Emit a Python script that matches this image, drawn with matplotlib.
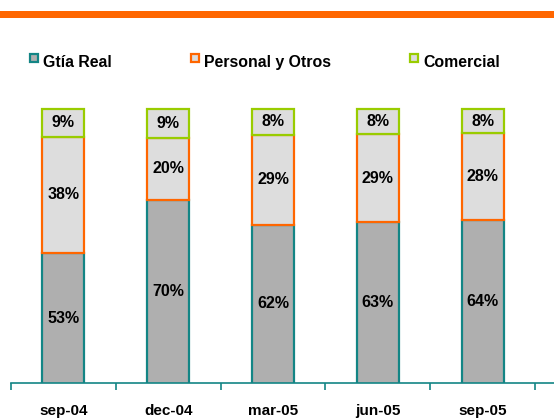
import matplotlib
matplotlib.use("Agg")
import matplotlib.pyplot as plt
import numpy as np
from matplotlib.patches import Rectangle

plt.rcParams['font.family'] = ['Liberation Sans', 'DejaVu Sans']
plt.rcParams['font.weight'] = 'bold'

# datos (valores estimados, las etiquetas van redondeadas)
periods = ["sep-04", "dec-04", "mar-05", "jun-05", "sep-05"]
series = ["Gtía Real", "Personal y Otros", "Comercial"]
gtia_real = [53.2, 70.4, 62.4, 63.2, 64.0]
personal = [37.8, 20.3, 29.3, 28.8, 28.2]
comercial = [9.0, 9.3, 8.3, 8.0, 7.8]

teal = "#138585"
orange = "#FF6600"
green = "#99CC00"
fills = ["#AFAFAF", "#DDDDDD", "#DDDDDD"]
edges = [teal, orange, green]

fig = plt.figure(figsize=(5.54, 4.18), dpi=100)
ax = fig.add_axes([11 / 554, 35 / 418, 543 / 554, 280 / 418])

x = np.arange(len(periods))
w = 0.4
ylo, yhi = 11, 102

bottom = np.zeros(len(periods))
for name, vals, fc, ec in zip(series, [gtia_real, personal, comercial], fills, edges):
    vals = np.array(vals)
    ax.bar(x, vals, w, bottom=bottom, color=fc, edgecolor=ec, linewidth=1.6, label=name)
    # etiqueta en el centro de la parte visible
    for xi, v, b in zip(x, vals, bottom):
        lo = max(b, ylo)
        ax.text(xi, (lo + b + v) / 2, "{:.0f}%".format(v), ha="center", va="center",
                fontsize=11.5, fontweight="bold", color="black")
    bottom = bottom + vals

ax.set_xlim(-0.5, 4.68)
ax.set_ylim(ylo, yhi)
for s in ["top", "right", "left"]:
    ax.spines[s].set_visible(False)
ax.spines["bottom"].set_color(teal)
ax.spines["bottom"].set_linewidth(1.2)
ax.set_yticks([])

ax.set_xticks(x)
ax.set_xticklabels(periods, fontsize=11, fontweight="bold")
ax.tick_params(axis="x", which="major", length=0, pad=15)
ax.set_xticks(np.arange(-0.5, 5, 1), minor=True)
ax.tick_params(axis="x", which="minor", length=5, width=1.2, color=teal, direction="out")

# linea naranja superior
fig.add_artist(Rectangle((0, (418 - 17.5) / 418), 1, 6.5 / 418,
                         transform=fig.transFigure, color=orange, lw=0))

# leyenda a mano (para alinear las lineas base)
leg_x = [30, 191, 410]
for lx, name, fc, ec in zip(leg_x, series, fills, edges):
    fig.add_artist(Rectangle((lx / 554, (418 - 62) / 418), 8 / 554, 8 / 418,
                             transform=fig.transFigure, facecolor=fc, edgecolor=ec, lw=1.6))
    fig.text((lx + 13) / 554, (418 - 67) / 418, name, fontsize=11.4, fontweight="bold",
             ha="left", va="baseline")

fig.savefig("out.png", dpi=100)
